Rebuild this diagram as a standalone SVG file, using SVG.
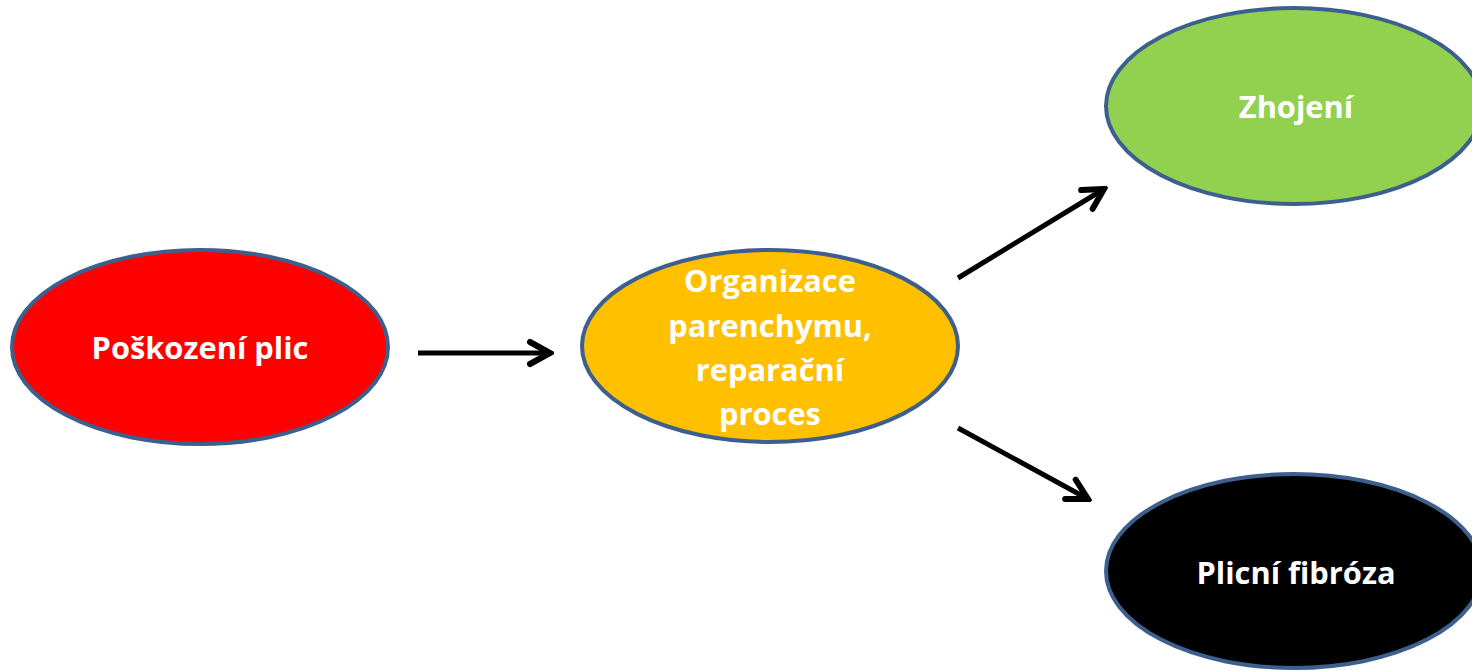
<svg xmlns="http://www.w3.org/2000/svg" width="1472" height="672" viewBox="0 0 1472 672">
<style>
.node{stroke:#3d5f8e;stroke-width:4}
.lbl{font-family:"Open Sans","Noto Sans",sans-serif;font-weight:bold;font-size:30.8px;fill:#fff;text-anchor:middle}
.conn{stroke:#000;stroke-width:5;fill:none;marker-end:url(#arr)}
</style>
<defs>
<marker id="arr" markerUnits="userSpaceOnUse" viewBox="-26 -16 30 32" markerWidth="30" markerHeight="32" refX="0" refY="0" orient="auto">
<path d="M-20,-11 L0,0 L-20,11" fill="none" stroke="#000" stroke-width="6" stroke-linecap="round" stroke-linejoin="miter"/>
</marker>
</defs>
<rect width="1472" height="672" fill="#fff"/>
<g id="connectors">
<line class="conn" x1="418" y1="353" x2="550" y2="353"/>
<line class="conn" x1="958" y1="278" x2="1104" y2="189"/>
<line class="conn" x1="958" y1="428" x2="1088" y2="499"/>
</g>
<g id="n1">
<ellipse class="node" cx="200" cy="347" rx="188" ry="97" fill="#ff0000"/>
<text class="lbl" x="200" y="359">Poškození plic</text>
</g>
<g id="n2">
<ellipse class="node" cx="770" cy="346" rx="188" ry="96" fill="#ffc000"/>
<text class="lbl" x="770" y="292">Organizace</text>
<text class="lbl" x="770" y="337">parenchymu,</text>
<text class="lbl" x="770" y="381">reparační</text>
<text class="lbl" x="770" y="425">proces</text>
</g>
<g id="n3">
<ellipse class="node" cx="1294" cy="106" rx="188" ry="98" fill="#92d050"/>
<text class="lbl" x="1296" y="118">Zhojení</text>
</g>
<g id="n4">
<ellipse class="node" cx="1294" cy="571" rx="188" ry="97" fill="#000000"/>
<text class="lbl" x="1296" y="584">Plicní fibróza</text>
</g>
</svg>
